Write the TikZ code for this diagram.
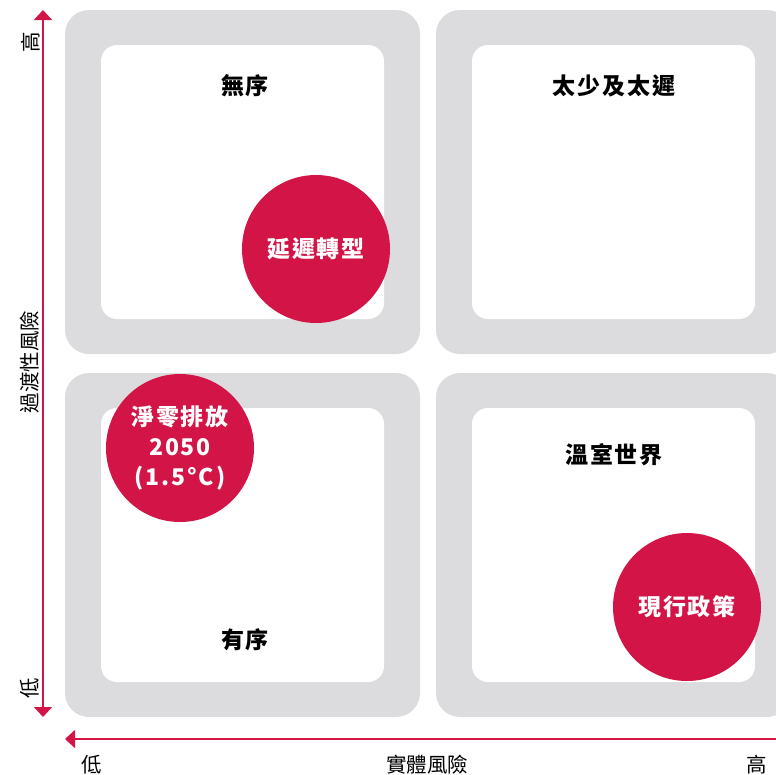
\documentclass[tikz,border=0pt]{standalone}
\usepackage{fontspec}
\usetikzlibrary{arrows.meta}
\newfontfamily\cjk{Noto Sans CJK TC}
\newfontfamily\cjksp[LetterSpace=8]{Noto Sans CJK TC}
\definecolor{crim}{HTML}{D21546}
\definecolor{panel}{HTML}{DCDCDE}
\tikzset{
  graybox/.style={fill=panel, draw=none, rounded corners=24pt},
  whitebox/.style={fill=white, draw=none, rounded corners=16pt},
  title/.style={font=\cjksp\bfseries\fontsize{23}{26}\selectfont, text=black, inner sep=0pt},
  bubble/.style={circle, fill=crim, draw=none, minimum size=148pt, inner sep=0pt, align=center, text=white, font=\cjksp\bfseries\fontsize{23}{30}\selectfont},
  axislabel/.style={font=\cjk\fontsize{20.5}{22}\selectfont, text=black, inner sep=0pt},
  axisline/.style={draw=crim, line width=1.6pt}
}
\begin{document}
\begin{tikzpicture}[x=1pt,y=-1pt]
\useasboundingbox (0,0) rectangle (776,774);
\clip (0,0) rectangle (776,774);
% panels
\fill[graybox] (65,10) rectangle (420,354);
\fill[graybox] (436,10) rectangle (791,354);
\fill[graybox] (65,373) rectangle (420,717);
\fill[graybox] (436,373) rectangle (791,717);
\fill[whitebox] (101,45) rectangle (384,319);
\fill[whitebox] (472,45) rectangle (755,319);
\fill[whitebox] (101,408) rectangle (384,682);
\fill[whitebox] (472,408) rectangle (755,682);
% titles
\node[title] (t1) at (245,86) {無序};
\node[title] (t2) at (614,86) {太少及太遲};
\node[title] (t3) at (614,455) {溫室世界};
\node[title] (t4) at (245,640) {有序};
% bubbles
\node[bubble] (b1) at (316,249) {延遲轉型};
\node[bubble] (b2) at (180,448) {淨零排放\\2050\\(1.5°C)};
\node[bubble] (b3) at (687,607) {現行政策};
% axes
\coordinate (vtop) at (43,10);
\coordinate (vbot) at (43,717);
\coordinate (hl) at (65,739);
\coordinate (hr) at (790,739);
\draw[axisline, {Triangle[width=18pt,length=10pt]}-{Triangle[width=18pt,length=10pt]}] (vtop) -- (vbot);
\draw[axisline, {Triangle[width=18pt,length=10pt]}-] (hl) -- (hr);
% axis labels
\node[axislabel, rotate=90] (yhi) at (31,42) {高};
\node[axislabel, rotate=90] (ymid) at (30,362) {過渡性風險};
\node[axislabel, rotate=90] (ylo) at (30,688) {低};
\node[axislabel] (xlo) at (92,765) {低};
\node[axislabel] (xmid) at (427,765) {實體風險};
\node[axislabel] (xhi) at (757,765) {高};
\end{tikzpicture}
\end{document}
